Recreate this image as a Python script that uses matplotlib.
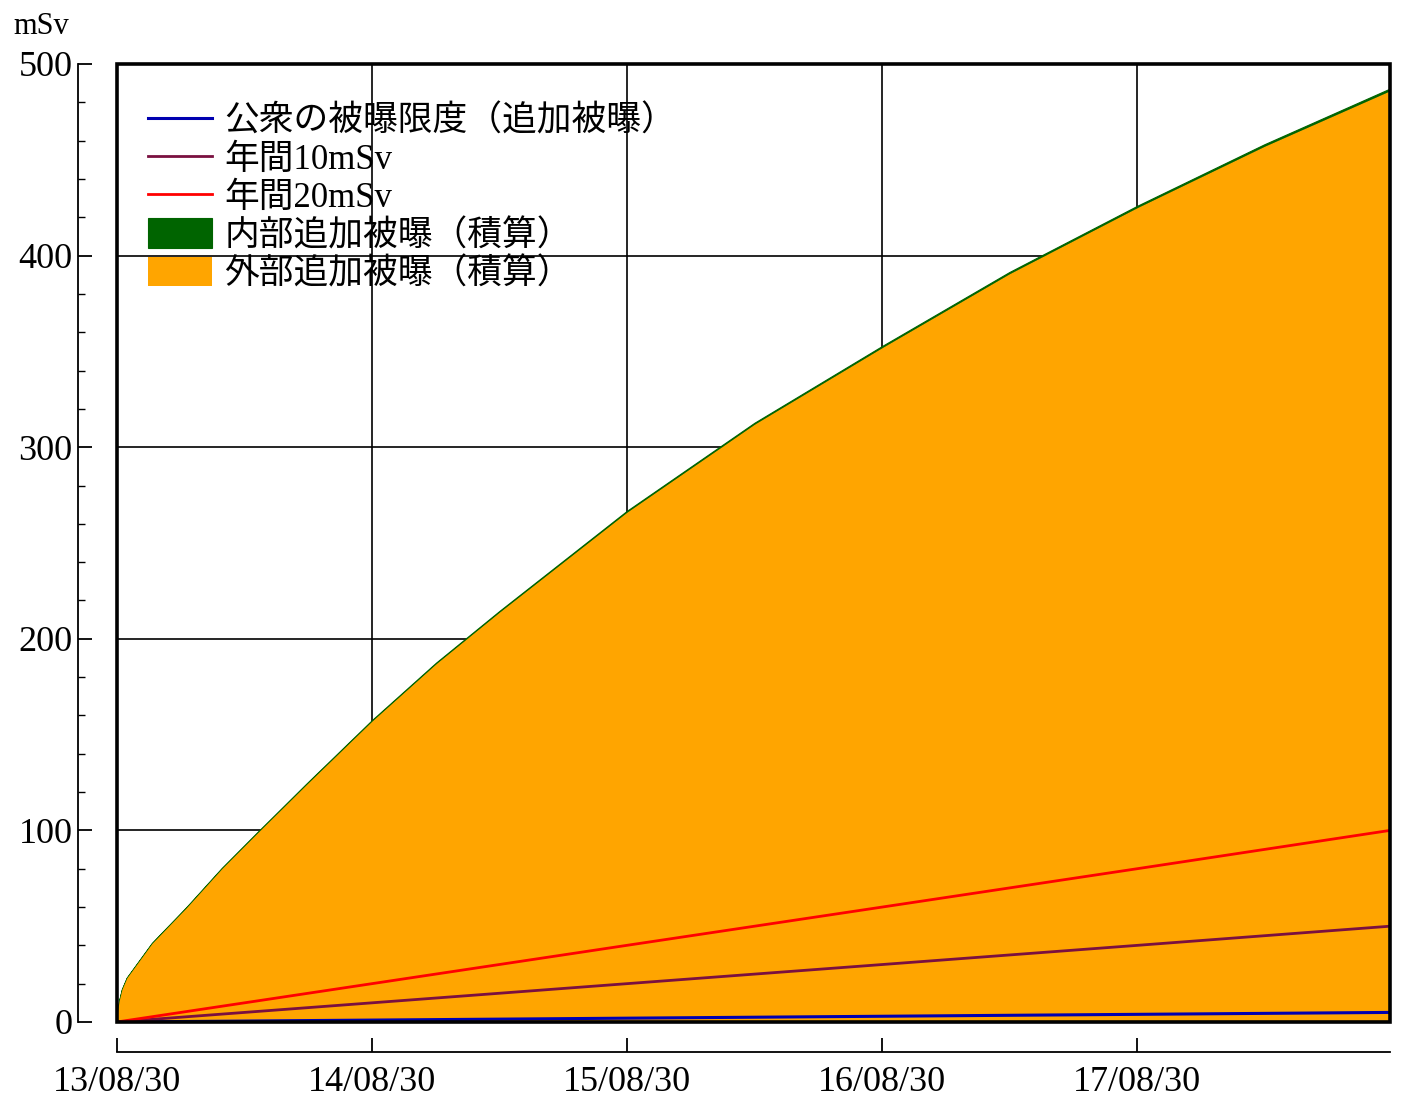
import matplotlib
matplotlib.use("Agg")
import matplotlib.pyplot as plt
from matplotlib.patches import Rectangle
import numpy as np

# cumulative exposure (mSv)
dates = ["2013-08-30", "2013-08-31", "2013-09-02", "2013-09-06", "2013-09-13",
         "2013-09-27", "2013-10-19", "2013-12-07", "2014-01-27", "2014-03-20",
         "2014-05-27", "2014-08-30", "2014-11-30", "2015-03-01", "2015-08-30",
         "2016-02-29", "2016-08-30", "2017-02-28", "2017-08-30", "2018-02-28",
         "2018-08-27"]
external = [0, 6, 11, 17, 23, 30, 41, 59.5, 80, 99, 123.5, 157, 187, 214, 266,
            312, 352, 390.5, 425, 457, 486]
internal = [0, 0.05, 0.1, 0.15, 0.2, 0.25, 0.3, 0.35, 0.4, 0.45, 0.5, 0.55,
            0.6, 0.65, 0.75, 0.8, 0.9, 0.95, 1.0, 1.1, 1.2]

ref_dates = ["2013-08-30", "2014-08-30", "2015-08-30", "2016-08-30",
             "2017-08-30", "2018-08-27"]
limit_1 = [0, 1, 2, 3, 4, 5]
annual_10 = [0, 10, 20, 30, 40, 50]
annual_20 = [0, 20, 40, 60, 80, 100]

tick_dates = ["2013-08-30", "2014-08-30", "2015-08-30", "2016-08-30", "2017-08-30"]
tick_labels = ["13/08/30", "14/08/30", "15/08/30", "16/08/30", "17/08/30"]

serif = ["Liberation Serif", "Noto Sans CJK JP", "DejaVu Sans"]
plt.rcParams["font.family"] = serif

x = np.array(dates, dtype="datetime64[D]")
xr = np.array(ref_dates, dtype="datetime64[D]")
ext = np.array(external, dtype=float)
tot = ext + np.array(internal)

fig = plt.figure(figsize=(14.02, 11.04), dpi=100)
ax = fig.add_axes([117 / 1402, 1 - 1022 / 1104, 1273 / 1402, 958 / 1104])

ax.fill_between(x, ext, tot, color="#006400", lw=0.8, label="内部追加被曝（積算）")
ax.fill_between(x, 0, ext, color="#ffa500", lw=0, label="外部追加被曝（積算）")
ax.plot(xr, limit_1, color="#0000b0", lw=2.2, label="公衆の被曝限度（追加被曝）")
ax.plot(xr, annual_10, color="#7a1040", lw=2, label="年間10mSv")
ax.plot(xr, annual_20, color="#ff0000", lw=2, label="年間20mSv")

ax.set_xlim(np.datetime64("2013-08-30"), np.datetime64("2018-08-27"))
ax.set_ylim(0, 500)
ax.set_yticks([0, 100, 200, 300, 400, 500])
ax.set_yticks(np.arange(0, 501, 20), minor=True)
ax.set_xticks(np.array(tick_dates, dtype="datetime64[D]"))
ax.set_xticklabels(tick_labels)

ax.set_axisbelow(True)
ax.grid(True, which="major", color="black", lw=1.2)

for s in ["top", "right"]:
    ax.spines[s].set_visible(False)
ax.spines["left"].set_position(("outward", 28))
ax.spines["bottom"].set_position(("outward", 21.5))
ax.spines["left"].set_linewidth(1.3)
ax.spines["bottom"].set_linewidth(1.3)
ax.tick_params(axis="y", which="major", direction="in", length=10, width=1.3,
               labelsize=26, pad=4)
ax.tick_params(axis="y", which="minor", direction="in", length=5, width=1.0)
ax.tick_params(axis="x", which="major", direction="in", length=10, width=1.3,
               labelsize=26, pad=10)
ax.tick_params(axis="x", which="minor", length=0)

ax.add_patch(Rectangle((0, 0), 1, 1, transform=ax.transAxes, fill=False,
                       lw=2.6, color="black", clip_on=False, zorder=10))

handles, labels = ax.get_legend_handles_labels()
order = [2, 3, 4, 0, 1]
leg = ax.legend([handles[i] for i in order], [labels[i] for i in order],
                loc="upper left", bbox_to_anchor=(0.0244, 0.958), frameon=False,
                borderpad=0, borderaxespad=0, handlelength=1.85,
                handleheight=0.92, handletextpad=0.35, labelspacing=0.1,
                prop={"family": serif, "size": 25})

fig.text(41 / 1402, 1 - 26 / 1104, "mSv", ha="center", va="center", fontsize=22)

fig.savefig("out.png", dpi=100)
